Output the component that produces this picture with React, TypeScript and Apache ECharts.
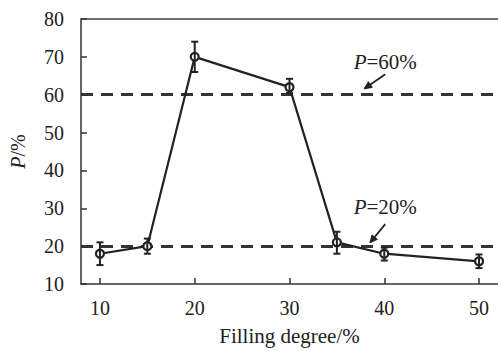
import React, { useEffect, useRef } from "react";
import * as echarts from "echarts";

const fillingDegree = [10, 15, 20, 30, 35, 40, 50];
const pValues = [18, 20, 70, 62, 21, 18, 16];
const errLow = [15, 18, 66, 60.5, 18, 16.2, 14.2];
const errHigh = [21, 22, 74, 64.2, 23.8, 19.6, 17.8];
const xTicks = [10, 20, 30, 40, 50];
const thresholdLines = [20, 60];
const annotationLabels = ["60%", "20%"];
const annotationTextPos = [[40.1, 68.6], [40.1, 30.4]];
const arrowStart = [[40.1, 65.4], [40.1, 25.8]];
const arrowEnd = [[37.9, 61.6], [38.5, 20.9]];

const FONT = "'Liberation Serif', 'Times New Roman', serif";
const INK = "#222";

export default function App() {
  const ref = useRef<HTMLDivElement>(null);
  useEffect(() => {
    if (!ref.current) return;
    const chart = echarts.init(ref.current, null, { renderer: "svg" });
    const errData = fillingDegree.map((x, i) => [x, errLow[i], errHigh[i]]);
    const annData = annotationLabels.map((l, i) => [
      annotationTextPos[i][0], annotationTextPos[i][1],
      arrowStart[i][0], arrowStart[i][1], arrowEnd[i][0], arrowEnd[i][1], i,
    ]);
    chart.setOption({
      animation: false,
      grid: { left: 79, top: 19, right: 0, bottom: 66 },
      xAxis: [
        {
          type: "value",
          min: 8,
          max: 52,
          name: "Filling degree/%",
          nameLocation: "middle",
          nameGap: 41,
          nameTextStyle: { fontFamily: FONT, fontSize: 21, color: INK },
          axisLine: { show: true, lineStyle: { color: "#333", width: 1.5 } },
          axisTick: { show: true, inside: true, length: 6, customValues: xTicks, lineStyle: { color: "#333", width: 1.5 } },
          axisLabel: { customValues: xTicks, fontFamily: FONT, fontSize: 20, color: INK, margin: 14 },
          splitLine: { show: false },
        },
        {
          type: "value",
          position: "top",
          min: 8,
          max: 52,
          axisLine: { show: true, onZero: false, lineStyle: { color: "#444", width: 1.5 } },
          axisTick: { show: false },
          axisLabel: { show: false },
          splitLine: { show: false },
        },
      ],
      yAxis: {
        type: "value",
        min: 10,
        max: 80,
        interval: 10,
        name: "{i|P}/%",
        nameLocation: "middle",
        nameGap: 53,
        nameTextStyle: {
          fontFamily: FONT, fontSize: 20, color: INK,
          rich: { i: { fontStyle: "italic", fontFamily: FONT, fontSize: 20, color: INK } },
        },
        axisLine: { show: true, lineStyle: { color: "#333", width: 1.5 } },
        axisTick: { show: true, inside: true, length: 6, lineStyle: { color: "#333", width: 1.5 } },
        axisLabel: { fontFamily: FONT, fontSize: 20, color: INK, margin: 17 },
        splitLine: { show: false },
      },
      series: [
        {
          type: "line",
          data: fillingDegree.map((x, i) => [x, pValues[i]]),
          symbol: "circle",
          symbolSize: 8,
          itemStyle: { color: "#fff", borderColor: INK, borderWidth: 2.2 },
          lineStyle: { color: INK, width: 2.2 },
          z: 5,
          markLine: {
            silent: true,
            symbol: "none",
            label: { show: false },
            lineStyle: { color: "#333", width: 3, type: [12, 8] },
            data: thresholdLines.map((v) => ({ yAxis: v })),
            z: 2,
          },
        },
        {
          type: "custom",
          data: errData,
          z: 6,
          renderItem: (params: any, api: any) => {
            const x = api.value(0);
            const lo = api.coord([x, api.value(1)]);
            const hi = api.coord([x, api.value(2)]);
            const c = 3.5;
            const style = { stroke: INK, lineWidth: 2 };
            return {
              type: "group",
              children: [
                { type: "line", shape: { x1: lo[0], y1: lo[1], x2: hi[0], y2: hi[1] }, style },
                { type: "line", shape: { x1: lo[0] - c, y1: lo[1], x2: lo[0] + c, y2: lo[1] }, style },
                { type: "line", shape: { x1: hi[0] - c, y1: hi[1], x2: hi[0] + c, y2: hi[1] }, style },
              ],
            };
          },
        },
        {
          type: "custom",
          data: annData,
          z: 7,
          renderItem: (params: any, api: any) => {
            const t = api.coord([api.value(0), api.value(1)]);
            const s = api.coord([api.value(2), api.value(3)]);
            const e = api.coord([api.value(4), api.value(5)]);
            const idx = api.value(6);
            const ang = Math.atan2(s[1] - e[1], s[0] - e[0]);
            const L = 8, spread = 0.45;
            const p1 = [e[0] + L * Math.cos(ang + spread), e[1] + L * Math.sin(ang + spread)];
            const p2 = [e[0] + L * Math.cos(ang - spread), e[1] + L * Math.sin(ang - spread)];
            return {
              type: "group",
              children: [
                {
                  type: "text",
                  x: t[0],
                  y: t[1],
                  style: {
                    text: "{i|P}=" + annotationLabels[idx],
                    align: "center",
                    verticalAlign: "middle",
                    fontFamily: FONT,
                    fontSize: 21,
                    fill: INK,
                    rich: { i: { fontStyle: "italic", fontFamily: FONT, fontSize: 21, fill: INK } },
                  },
                },
                { type: "line", shape: { x1: s[0], y1: s[1], x2: e[0], y2: e[1] }, style: { stroke: INK, lineWidth: 1.8 } },
                { type: "polygon", shape: { points: [e, p1, p2] }, style: { fill: INK, stroke: INK, lineWidth: 1 } },
              ],
            };
          },
        },
      ],
    });
    return () => chart.dispose();
  }, []);
  return <div ref={ref} style={{ width: 498, height: 351, position: "absolute", left: 0, top: 0 }} />;
}
